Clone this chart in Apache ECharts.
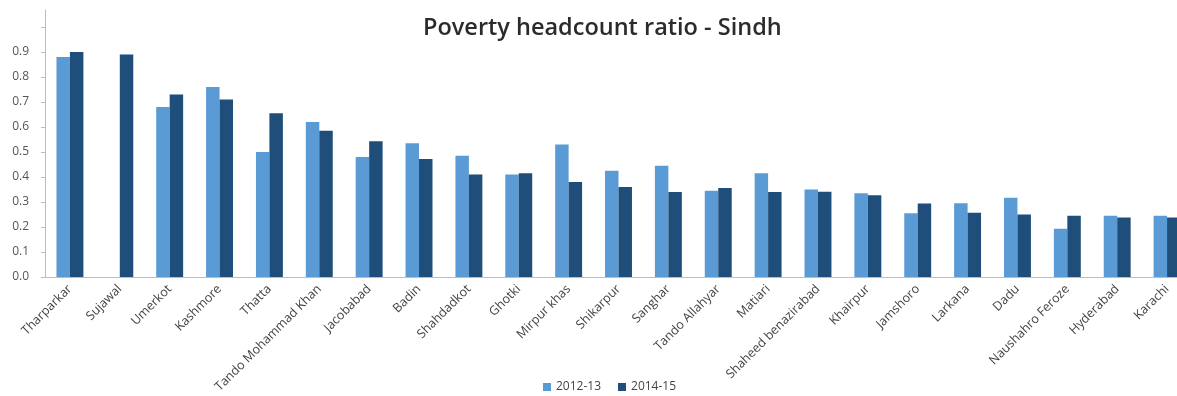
<!DOCTYPE html>
<html>
<head>
<meta charset="utf-8">
<script src="https://cdn.jsdelivr.net/npm/echarts@6/dist/echarts.min.js"></script>
<style>
  html, body { margin: 0; padding: 0; background: #fff; }
  #chart { width: 1177px; height: 396px; }
</style>
</head>
<body>
<div id="chart"></div>
<script>
// districts, in the order of the picture
var districts = ['Tharparkar', 'Sujawal', 'Umerkot', 'Kashmore', 'Thatta',
    'Tando Mohammad Khan', 'Jacobabad', 'Badin', 'Shahdadkot', 'Ghotki',
    'Mirpur khas', 'Shikarpur', 'Sanghar', 'Tando Allahyar', 'Matiari',
    'Shaheed benazirabad', 'Khairpur', 'Jamshoro', 'Larkana', 'Dadu',
    'Naushahro Feroze', 'Hyderabad', 'Karachi'];

// 2012-13 (no value for Sujawal)
var ratio2012 = [0.88, null, 0.68, 0.76, 0.50,
    0.62, 0.48, 0.535, 0.485, 0.41,
    0.53, 0.425, 0.445, 0.345, 0.415,
    0.35, 0.335, 0.255, 0.295, 0.317,
    0.193, 0.245, 0.245];

// 2014-15
var ratio2014 = [0.90, 0.89, 0.73, 0.71, 0.655,
    0.585, 0.543, 0.472, 0.41, 0.415,
    0.38, 0.36, 0.34, 0.356, 0.34,
    0.341, 0.327, 0.294, 0.257, 0.25,
    0.245, 0.238, 0.238];

var seriesNames = ['2012-13', '2014-15'];
var colors = ['#5b9bd5', '#1e4e79'];

var font = '"Open Sans", "Noto Sans", sans-serif';

var chart = echarts.init(document.getElementById('chart'));

chart.setOption({
    animation: false,
    color: colors,
    title: {
        text: 'Poverty headcount ratio - Sindh',
        left: 418,
        top: 11,
        textStyle: {
            fontFamily: font,
            fontSize: 23.5,
            fontWeight: 600,
            color: '#2b2b2b'
        }
    },
    legend: {
        data: seriesNames,
        top: 376,
        left: 538,
        itemWidth: 8,
        itemHeight: 8,
        itemGap: 17,
        icon: 'rect',
        textStyle: { fontFamily: font, fontSize: 12, color: '#444' }
    },
    grid: {
        left: 45,
        top: 10,
        width: 1147,
        height: 267,
        outerBoundsMode: 'none'
    },
    xAxis: {
        type: 'category',
        data: districts,
        axisLine: { lineStyle: { color: '#bdbdbd' } },
        axisTick: { length: 5, lineStyle: { color: '#bdbdbd' } },
        axisLabel: {
            rotate: 45,
            interval: 0,
            margin: 10,
            fontFamily: font,
            fontSize: 12.5,
            color: '#444'
        }
    },
    yAxis: {
        type: 'value',
        min: 0,
        max: 1.068,
        interval: 0.1,
        splitLine: { show: false },
        axisLine: { show: true, lineStyle: { color: '#bdbdbd' } },
        axisTick: { show: true, length: 4, lineStyle: { color: '#bdbdbd' } },
        axisLabel: {
            margin: 16,
            fontFamily: font,
            fontSize: 12,
            color: '#555',
            showMaxLabel: false,
            formatter: function (v) {
                return v > 0.95 ? '' : v.toFixed(1);
            }
        }
    },
    series: [
        {
            name: seriesNames[0],
            type: 'bar',
            data: ratio2012,
            barGap: '0%',
            barCategoryGap: '46%'
        },
        {
            name: seriesNames[1],
            type: 'bar',
            data: ratio2014,
            barGap: '0%',
            barCategoryGap: '46%'
        }
    ]
});
</script>
</body>
</html>
